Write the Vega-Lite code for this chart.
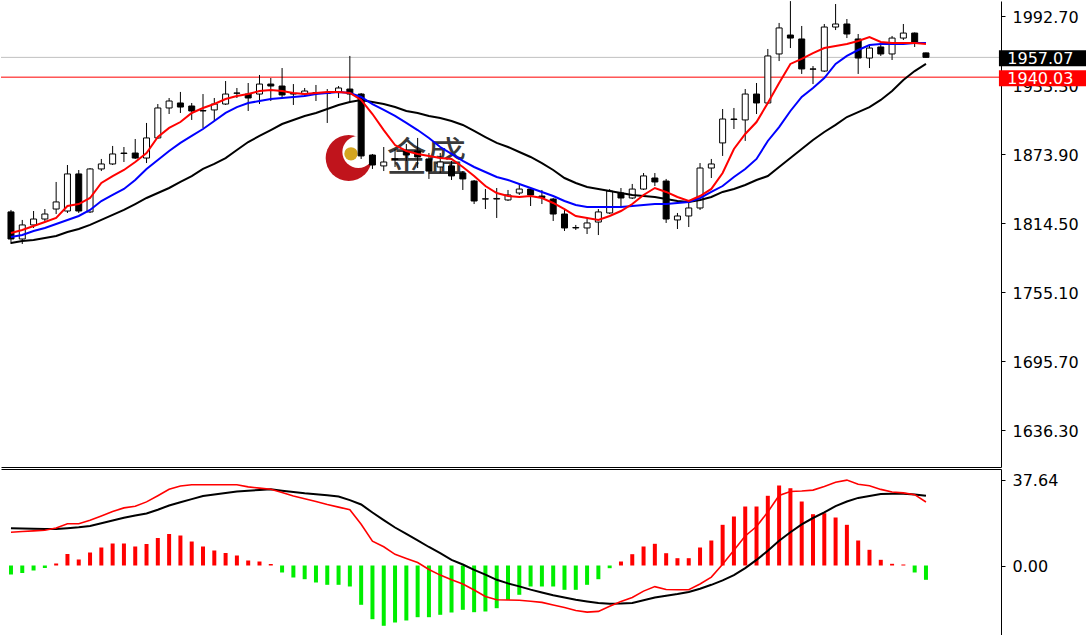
{
"$schema": "https://vega.github.io/schema/vega-lite/v6.json",
"padding": 0,
"background": "white",
"spacing": 2,
"config": {"view": {"stroke": null}, "axis": {"grid": false, "labelFont": "DejaVu Sans", "labelFontSize": 16, "labelColor": "#000", "domainColor": "#000", "tickColor": "#000", "labelOverlap": false, "labelFlush": false}},
"resolve": {"scale": {"x": "independent", "y": "independent"}},
"data": {"values": [
{"i":0,"o":1824.0,"h":1825.7,"l":1796.4,"c":1800.7,"r":1805.9,"b":1802.4,"k":1797.3,"hist":-3.94,"m":16.28,"s":14.58},
{"i":1,"o":1800.7,"h":1817.1,"l":1796.4,"c":1812.8,"r":1808.5,"b":1804.2,"k":1799.0,"hist":-3.28,"m":16.19,"s":14.88},
{"i":2,"o":1812.8,"h":1824.8,"l":1810.2,"c":1817.9,"r":1811.9,"b":1807.6,"k":1799.8,"hist":-2.19,"m":16.11,"s":15.14},
{"i":3,"o":1817.9,"h":1826.5,"l":1816.2,"c":1822.2,"r":1815.3,"b":1810.2,"k":1801.6,"hist":-1.09,"m":15.98,"s":15.41},
{"i":4,"o":1826.5,"h":1849.8,"l":1822.2,"c":1832.6,"r":1818.8,"b":1813.6,"k":1803.3,"hist":0.88,"m":15.93,"s":16.41},
{"i":5,"o":1824.8,"h":1864.4,"l":1823.1,"c":1856.7,"r":1829.1,"b":1817.1,"k":1806.7,"hist":5.03,"m":16.33,"s":18.25},
{"i":6,"o":1856.7,"h":1860.1,"l":1823.1,"c":1824.8,"r":1830.8,"b":1820.5,"k":1809.3,"hist":2.63,"m":16.76,"s":18.25},
{"i":7,"o":1824.0,"h":1861.8,"l":1823.1,"c":1861.0,"r":1836.0,"b":1825.7,"k":1812.8,"hist":5.69,"m":17.33,"s":19.78},
{"i":8,"o":1861.0,"h":1869.6,"l":1859.2,"c":1865.3,"r":1848.9,"b":1833.4,"k":1817.1,"hist":7.88,"m":18.47,"s":21.67},
{"i":9,"o":1865.3,"h":1880.8,"l":1864.4,"c":1873.9,"r":1854.9,"b":1838.6,"k":1821.4,"hist":9.63,"m":19.70,"s":23.64},
{"i":10,"o":1874.7,"h":1879.9,"l":1867.0,"c":1874.3,"r":1860.1,"b":1843.8,"k":1825.7,"hist":9.63,"m":20.88,"s":25.21},
{"i":11,"o":1874.7,"h":1886.8,"l":1869.6,"c":1870.4,"r":1867.0,"b":1851.5,"k":1830.8,"hist":8.32,"m":21.89,"s":25.91},
{"i":12,"o":1870.4,"h":1900.6,"l":1866.1,"c":1887.7,"r":1874.7,"b":1861.0,"k":1836.0,"hist":9.41,"m":22.80,"s":27.84},
{"i":13,"o":1887.7,"h":1916.9,"l":1886.8,"c":1913.5,"r":1888.5,"b":1868.7,"k":1840.3,"hist":12.04,"m":24.42,"s":30.55},
{"i":14,"o":1913.5,"h":1922.1,"l":1908.3,"c":1919.5,"r":1896.3,"b":1876.5,"k":1844.6,"hist":13.79,"m":26.26,"s":33.40},
{"i":15,"o":1917.8,"h":1927.3,"l":1909.2,"c":1914.3,"r":1901.4,"b":1883.4,"k":1849.8,"hist":13.13,"m":27.66,"s":34.80},
{"i":16,"o":1915.2,"h":1917.8,"l":1903.2,"c":1910.9,"r":1909.2,"b":1889.4,"k":1854.9,"hist":10.50,"m":29.06,"s":35.32},
{"i":17,"o":1910.9,"h":1925.5,"l":1896.3,"c":1911.3,"r":1913.5,"b":1895.4,"k":1861.0,"hist":8.32,"m":30.42,"s":35.32},
{"i":18,"o":1911.8,"h":1922.1,"l":1902.3,"c":1916.9,"r":1916.9,"b":1902.3,"k":1865.3,"hist":6.57,"m":31.08,"s":35.32},
{"i":19,"o":1916.9,"h":1936.7,"l":1916.1,"c":1925.5,"r":1921.2,"b":1909.2,"k":1870.4,"hist":5.47,"m":31.78,"s":35.32},
{"i":20,"o":1926.4,"h":1930.7,"l":1922.1,"c":1926.2,"r":1923.8,"b":1914.3,"k":1877.3,"hist":4.38,"m":32.39,"s":35.32},
{"i":21,"o":1925.5,"h":1935.0,"l":1910.9,"c":1922.1,"r":1925.5,"b":1917.8,"k":1884.2,"hist":2.19,"m":32.74,"s":34.40},
{"i":22,"o":1925.5,"h":1941.9,"l":1916.9,"c":1934.1,"r":1928.1,"b":1919.5,"k":1889.4,"hist":1.75,"m":33.09,"s":33.88},
{"i":23,"o":1934.1,"h":1939.3,"l":1919.5,"c":1932.4,"r":1929.0,"b":1921.2,"k":1894.5,"hist":0.66,"m":33.40,"s":33.40},
{"i":24,"o":1932.4,"h":1947.9,"l":1922.1,"c":1924.7,"r":1928.1,"b":1922.1,"k":1899.7,"hist":-3.06,"m":32.74,"s":31.91},
{"i":25,"o":1926.0,"h":1934.1,"l":1916.1,"c":1925.5,"r":1926.4,"b":1923.0,"k":1903.2,"hist":-5.25,"m":32.17,"s":30.46},
{"i":26,"o":1925.5,"h":1930.7,"l":1923.8,"c":1928.1,"r":1925.5,"b":1923.8,"k":1906.6,"hist":-6.00,"m":31.60,"s":29.24},
{"i":27,"o":1926.4,"h":1933.3,"l":1919.5,"c":1926.8,"r":1926.4,"b":1925.5,"k":1909.2,"hist":-7.44,"m":31.21,"s":28.01},
{"i":28,"o":1926.4,"h":1929.8,"l":1900.6,"c":1926.0,"r":1927.3,"b":1926.4,"k":1912.6,"hist":-8.45,"m":30.77,"s":26.66},
{"i":29,"o":1927.3,"h":1932.4,"l":1922.1,"c":1930.7,"r":1927.3,"b":1927.3,"k":1916.1,"hist":-8.45,"m":30.20,"s":25.56},
{"i":30,"o":1929.8,"h":1958.3,"l":1917.8,"c":1925.5,"r":1926.4,"b":1926.4,"k":1918.7,"hist":-9.19,"m":28.63,"s":24.38},
{"i":31,"o":1925.5,"h":1926.4,"l":1869.6,"c":1872.2,"r":1920.4,"b":1923.0,"k":1920.4,"hist":-17.20,"m":26.70,"s":18.03},
{"i":32,"o":1873.0,"h":1873.9,"l":1861.0,"c":1864.4,"r":1908.3,"b":1916.9,"k":1918.7,"hist":-23.50,"m":23.20,"s":10.64},
{"i":33,"o":1863.6,"h":1879.9,"l":1859.2,"c":1867.0,"r":1894.5,"b":1911.8,"k":1916.9,"hist":-26.39,"m":19.87,"s":8.18},
{"i":34,"o":1869.6,"h":1878.2,"l":1862.7,"c":1869.2,"r":1881.6,"b":1906.6,"k":1914.3,"hist":-24.95,"m":16.63,"s":4.90},
{"i":35,"o":1876.5,"h":1882.5,"l":1867.9,"c":1873.0,"r":1876.5,"b":1900.6,"k":1910.9,"hist":-24.07,"m":13.83,"s":3.11},
{"i":36,"o":1876.5,"h":1887.7,"l":1861.8,"c":1871.3,"r":1873.9,"b":1894.5,"k":1909.2,"hist":-22.63,"m":11.03,"s":1.31},
{"i":37,"o":1869.6,"h":1874.7,"l":1852.4,"c":1859.2,"r":1872.2,"b":1887.7,"k":1906.6,"hist":-22.63,"m":8.10,"s":-1.75},
{"i":38,"o":1862.7,"h":1874.7,"l":1857.5,"c":1867.0,"r":1870.4,"b":1879.9,"k":1904.9,"hist":-21.58,"m":5.38,"s":-4.20},
{"i":39,"o":1863.6,"h":1867.9,"l":1851.5,"c":1855.0,"r":1869.6,"b":1873.9,"k":1902.3,"hist":-20.57,"m":2.49,"s":-6.22},
{"i":40,"o":1857.5,"h":1859.2,"l":1842.9,"c":1852.4,"r":1862.7,"b":1867.9,"k":1898.9,"hist":-19.39,"m":0.44,"s":-8.14},
{"i":41,"o":1850.6,"h":1851.5,"l":1830.8,"c":1833.4,"r":1854.9,"b":1862.7,"k":1893.7,"hist":-20.44,"m":-1.88,"s":-10.72},
{"i":42,"o":1835.1,"h":1843.7,"l":1826.5,"c":1835.3,"r":1846.3,"b":1858.4,"k":1888.5,"hist":-20.13,"m":-3.98,"s":-13.57},
{"i":43,"o":1835.1,"h":1844.6,"l":1818.8,"c":1835.6,"r":1840.3,"b":1854.1,"k":1883.4,"hist":-18.69,"m":-6.26,"s":-15.01},
{"i":44,"o":1834.3,"h":1842.9,"l":1833.4,"c":1838.6,"r":1837.7,"b":1851.5,"k":1879.9,"hist":-15.01,"m":-7.83,"s":-15.10},
{"i":45,"o":1840.3,"h":1848.1,"l":1838.6,"c":1843.7,"r":1836.9,"b":1848.1,"k":1875.6,"hist":-12.82,"m":-9.15,"s":-15.23},
{"i":46,"o":1843.7,"h":1844.6,"l":1829.1,"c":1838.6,"r":1837.7,"b":1844.6,"k":1871.3,"hist":-9.19,"m":-10.55,"s":-15.63},
{"i":47,"o":1837.7,"h":1842.9,"l":1830.8,"c":1836.4,"r":1836.0,"b":1841.2,"k":1866.1,"hist":-9.19,"m":-11.82,"s":-16.15},
{"i":48,"o":1835.1,"h":1836.0,"l":1816.2,"c":1822.2,"r":1831.7,"b":1837.7,"k":1860.1,"hist":-9.19,"m":-13.04,"s":-17.29},
{"i":49,"o":1822.2,"h":1825.7,"l":1807.6,"c":1810.2,"r":1826.5,"b":1833.4,"k":1853.2,"hist":-10.64,"m":-14.01,"s":-18.38},
{"i":50,"o":1810.2,"h":1812.8,"l":1808.5,"c":1810.6,"r":1820.5,"b":1830.0,"k":1848.9,"hist":-10.64,"m":-15.01,"s":-19.70},
{"i":51,"o":1810.2,"h":1817.9,"l":1805.0,"c":1814.5,"r":1818.8,"b":1828.3,"k":1845.5,"hist":-8.45,"m":-15.71,"s":-20.40},
{"i":52,"o":1815.3,"h":1826.5,"l":1804.1,"c":1824.0,"r":1817.1,"b":1828.3,"k":1843.8,"hist":-6.00,"m":-16.37,"s":-20.09},
{"i":53,"o":1823.1,"h":1843.7,"l":1822.2,"c":1842.0,"r":1820.5,"b":1828.3,"k":1842.0,"hist":-1.18,"m":-16.72,"s":-17.81},
{"i":54,"o":1840.3,"h":1844.6,"l":1827.4,"c":1836.0,"r":1824.8,"b":1828.3,"k":1840.3,"hist":1.75,"m":-16.63,"s":-15.80},
{"i":55,"o":1836.0,"h":1848.1,"l":1835.1,"c":1843.7,"r":1830.8,"b":1829.1,"k":1838.6,"hist":4.95,"m":-16.41,"s":-14.01},
{"i":56,"o":1843.7,"h":1857.5,"l":1842.9,"c":1855.0,"r":1838.6,"b":1830.0,"k":1837.7,"hist":8.32,"m":-15.23,"s":-11.21},
{"i":57,"o":1853.2,"h":1857.5,"l":1846.3,"c":1849.8,"r":1844.6,"b":1830.8,"k":1836.9,"hist":9.50,"m":-14.05,"s":-9.24},
{"i":58,"o":1850.6,"h":1852.4,"l":1814.5,"c":1817.9,"r":1841.2,"b":1830.8,"k":1835.1,"hist":5.38,"m":-13.22,"s":-10.50},
{"i":59,"o":1817.1,"h":1823.1,"l":1809.3,"c":1820.5,"r":1836.9,"b":1831.7,"k":1833.4,"hist":3.20,"m":-12.47,"s":-10.64},
{"i":60,"o":1820.5,"h":1833.4,"l":1811.0,"c":1827.4,"r":1833.4,"b":1832.6,"k":1832.6,"hist":3.20,"m":-11.60,"s":-10.64},
{"i":61,"o":1827.4,"h":1866.1,"l":1825.7,"c":1861.8,"r":1837.7,"b":1836.0,"k":1834.3,"hist":7.88,"m":-10.20,"s":-8.10},
{"i":62,"o":1861.8,"h":1869.6,"l":1853.2,"c":1865.3,"r":1843.8,"b":1841.2,"k":1836.9,"hist":10.94,"m":-8.45,"s":-5.08},
{"i":63,"o":1883.4,"h":1912.6,"l":1872.2,"c":1904.0,"r":1857.5,"b":1846.3,"k":1841.2,"hist":17.81,"m":-6.52,"s":0.53},
{"i":64,"o":1904.0,"h":1913.5,"l":1895.4,"c":1903.6,"r":1878.2,"b":1854.1,"k":1843.8,"hist":21.45,"m":-4.25,"s":6.70},
{"i":65,"o":1903.2,"h":1929.8,"l":1885.1,"c":1925.5,"r":1891.1,"b":1861.0,"k":1847.2,"hist":25.82,"m":-1.14,"s":12.91},
{"i":66,"o":1925.5,"h":1935.0,"l":1908.3,"c":1917.8,"r":1901.4,"b":1869.6,"k":1851.5,"hist":25.82,"m":2.45,"s":17.07},
{"i":67,"o":1917.8,"h":1964.3,"l":1916.9,"c":1958.3,"r":1917.8,"b":1885.1,"k":1854.9,"hist":30.51,"m":6.43,"s":23.42},
{"i":68,"o":1960.0,"h":1986.7,"l":1953.9,"c":1982.4,"r":1935.0,"b":1897.1,"k":1862.7,"hist":35.02,"m":10.85,"s":30.64},
{"i":69,"o":1976.3,"h":2005.5,"l":1965.1,"c":1973.7,"r":1951.4,"b":1910.9,"k":1870.4,"hist":33.83,"m":14.58,"s":32.39},
{"i":70,"o":1972.9,"h":1984.1,"l":1942.8,"c":1947.1,"r":1955.7,"b":1923.0,"k":1878.2,"hist":28.01,"m":17.99,"s":32.61},
{"i":71,"o":1947.1,"h":1949.6,"l":1934.1,"c":1946.9,"r":1960.8,"b":1930.7,"k":1885.9,"hist":22.45,"m":20.79,"s":33.00},
{"i":72,"o":1945.3,"h":1985.8,"l":1944.5,"c":1983.2,"r":1965.1,"b":1939.3,"k":1892.8,"hist":22.89,"m":23.29,"s":34.58},
{"i":73,"o":1983.2,"h":2003.0,"l":1980.6,"c":1985.8,"r":1966.9,"b":1951.4,"k":1898.9,"hist":21.01,"m":25.96,"s":36.46},
{"i":74,"o":1985.8,"h":1990.1,"l":1973.7,"c":1977.2,"r":1968.6,"b":1958.3,"k":1905.7,"hist":17.81,"m":28.01,"s":37.38},
{"i":75,"o":1972.9,"h":1977.2,"l":1942.8,"c":1956.5,"r":1971.2,"b":1963.4,"k":1910.0,"hist":10.94,"m":29.59,"s":35.54},
{"i":76,"o":1956.5,"h":1966.9,"l":1947.9,"c":1965.1,"r":1974.6,"b":1967.7,"k":1914.3,"hist":6.87,"m":30.42,"s":34.93},
{"i":77,"o":1966.0,"h":1969.4,"l":1958.3,"c":1960.0,"r":1970.3,"b":1968.6,"k":1920.4,"hist":2.49,"m":31.25,"s":33.31},
{"i":78,"o":1960.0,"h":1975.5,"l":1954.8,"c":1973.7,"r":1969.4,"b":1968.6,"k":1928.1,"hist":0.74,"m":31.38,"s":32.17},
{"i":79,"o":1973.7,"h":1985.8,"l":1972.0,"c":1978.0,"r":1969.4,"b":1968.6,"k":1937.6,"hist":0.44,"m":31.38,"s":31.78},
{"i":80,"o":1978.0,"h":1978.5,"l":1966.0,"c":1969.4,"r":1969.4,"b":1969.4,"k":1945.3,"hist":-3.06,"m":31.08,"s":30.99},
{"i":81,"o":1960.9,"h":1961.2,"l":1956.8,"c":1957.07,"r":1968.6,"b":1969.4,"k":1951.4,"hist":-6.26,"m":30.55,"s":27.79}
]},
"vconcat": [
{
"width": 1000, "height": 466,
"layer": [
{"data": {"values": [{"p": 1957.07}]}, "mark": {"type": "rule", "color": "#c0c0c0", "strokeWidth": 1},
 "encoding": {"y": {"field": "p", "type": "quantitative", "scale": {"domain": [1604.4, 2005.6], "nice": false, "zero": false}, "title": null,
  "axis": {"orient": "right", "values": [1992.7, 1933.3, 1873.9, 1814.5, 1755.1, 1695.7, 1636.3], "format": ".2f", "tickSize": 4, "labelPadding": 7, "labelOffset": 2, "domain": true}}}},
{"data": {"values": [{"p": 1940.03}]}, "mark": {"type": "rule", "color": "#ff0000", "strokeWidth": 1},
 "encoding": {"y": {"field": "p", "type": "quantitative", "title": null, "axis": {"orient": "right", "values": [1992.7, 1933.3, 1873.9, 1814.5, 1755.1, 1695.7, 1636.3], "format": ".2f", "tickSize": 4, "labelPadding": 7, "labelOffset": 2, "domain": true}}}},
{"data": {"values": [{"i": 29.9, "p": 1870.4}]}, "mark": {"type": "point", "shape": "circle", "filled": true, "size": 2124, "color": "#c0141c", "opacity": 1},
 "encoding": {"x": {"field": "i", "type": "quantitative", "scale": {"domain": [-0.44, 87.2], "nice": false, "zero": false}, "title": null, "axis": {"orient": "bottom", "labels": false, "ticks": false, "domain": true}},
  "y": {"field": "p", "type": "quantitative", "title": null, "axis": {"orient": "right", "values": [1992.7, 1933.3, 1873.9, 1814.5, 1755.1, 1695.7, 1636.3], "format": ".2f", "tickSize": 4, "labelPadding": 7, "labelOffset": 2, "domain": true}}}},
{"data": {"values": [{"i": 30.75, "p": 1875.6}]}, "mark": {"type": "point", "shape": "circle", "filled": true, "size": 1018, "color": "#ffffff", "opacity": 1},
 "encoding": {"x": {"field": "i", "type": "quantitative", "title": null, "axis": {"orient": "bottom", "labels": false, "ticks": false, "domain": true}},
  "y": {"field": "p", "type": "quantitative", "title": null, "axis": {"orient": "right", "values": [1992.7, 1933.3, 1873.9, 1814.5, 1755.1, 1695.7, 1636.3], "format": ".2f", "tickSize": 4, "labelPadding": 7, "labelOffset": 2, "domain": true}}}},
{"data": {"values": [{"i": 30.1, "p": 1874.0}]}, "mark": {"type": "point", "shape": "circle", "filled": true, "size": 180, "color": "#d4a520", "opacity": 1},
 "encoding": {"x": {"field": "i", "type": "quantitative", "title": null, "axis": {"orient": "bottom", "labels": false, "ticks": false, "domain": true}},
  "y": {"field": "p", "type": "quantitative", "title": null, "axis": {"orient": "right", "values": [1992.7, 1933.3, 1873.9, 1814.5, 1755.1, 1695.7, 1636.3], "format": ".2f", "tickSize": 4, "labelPadding": 7, "labelOffset": 2, "domain": true}}}},
{"data": {"values": [{"i": 36.8, "p": 1869.6, "t": "金盛"}]}, "mark": {"type": "text", "font": "Noto Sans CJK SC", "fontSize": 40, "color": "#3a3a3a", "align": "center", "baseline": "middle"},
 "encoding": {"x": {"field": "i", "type": "quantitative", "title": null, "axis": {"orient": "bottom", "labels": false, "ticks": false, "domain": true}},
  "y": {"field": "p", "type": "quantitative", "title": null, "axis": {"orient": "right", "values": [1992.7, 1933.3, 1873.9, 1814.5, 1755.1, 1695.7, 1636.3], "format": ".2f", "tickSize": 4, "labelPadding": 7, "labelOffset": 2, "domain": true}}, "text": {"field": "t"}}},
{"mark": {"type": "rule", "color": "#000000", "strokeWidth": 1},
 "encoding": {"x": {"field": "i", "type": "quantitative", "title": null, "axis": {"orient": "bottom", "labels": false, "ticks": false, "domain": true}},
  "y": {"field": "l", "type": "quantitative", "title": null, "axis": {"orient": "right", "values": [1992.7, 1933.3, 1873.9, 1814.5, 1755.1, 1695.7, 1636.3], "format": ".2f", "tickSize": 4, "labelPadding": 7, "labelOffset": 2, "domain": true}}, "y2": {"field": "h"}}},
{"mark": {"type": "bar", "size": 6, "stroke": "#000000", "strokeWidth": 1},
 "encoding": {"x": {"field": "i", "type": "quantitative", "title": null, "axis": {"orient": "bottom", "labels": false, "ticks": false, "domain": true}},
  "y": {"field": "o", "type": "quantitative", "title": null, "axis": {"orient": "right", "values": [1992.7, 1933.3, 1873.9, 1814.5, 1755.1, 1695.7, 1636.3], "format": ".2f", "tickSize": 4, "labelPadding": 7, "labelOffset": 2, "domain": true}}, "y2": {"field": "c"},
  "fill": {"condition": {"test": "datum.c >= datum.o", "value": "#ffffff"}, "value": "#000000"}}},
{"mark": {"type": "line", "color": "#000000", "strokeWidth": 2},
 "encoding": {"x": {"field": "i", "type": "quantitative", "title": null, "axis": {"orient": "bottom", "labels": false, "ticks": false, "domain": true}},
  "y": {"field": "k", "type": "quantitative", "title": null, "axis": {"orient": "right", "values": [1992.7, 1933.3, 1873.9, 1814.5, 1755.1, 1695.7, 1636.3], "format": ".2f", "tickSize": 4, "labelPadding": 7, "labelOffset": 2, "domain": true}}}},
{"mark": {"type": "line", "color": "#0000ff", "strokeWidth": 2},
 "encoding": {"x": {"field": "i", "type": "quantitative", "title": null, "axis": {"orient": "bottom", "labels": false, "ticks": false, "domain": true}},
  "y": {"field": "b", "type": "quantitative", "title": null, "axis": {"orient": "right", "values": [1992.7, 1933.3, 1873.9, 1814.5, 1755.1, 1695.7, 1636.3], "format": ".2f", "tickSize": 4, "labelPadding": 7, "labelOffset": 2, "domain": true}}}},
{"mark": {"type": "line", "color": "#ff0000", "strokeWidth": 2},
 "encoding": {"x": {"field": "i", "type": "quantitative", "title": null, "axis": {"orient": "bottom", "labels": false, "ticks": false, "domain": true}},
  "y": {"field": "r", "type": "quantitative", "title": null, "axis": {"orient": "right", "values": [1992.7, 1933.3, 1873.9, 1814.5, 1755.1, 1695.7, 1636.3], "format": ".2f", "tickSize": 4, "labelPadding": 7, "labelOffset": 2, "domain": true}}}},
{"data": {"values": [{"p": 1957.07, "t": "1957.07"}, {"p": 1940.03, "t": "1940.03"}]}, "mark": {"type": "rect", "clip": false, "yOffset": -7, "y2Offset": 9},
 "encoding": {"x": {"datum": 87.46, "type": "quantitative", "title": null, "axis": {"orient": "bottom", "labels": false, "ticks": false, "domain": true}}, "x2": {"datum": 96},
  "y": {"field": "p", "type": "quantitative", "title": null, "axis": {"orient": "right", "values": [1992.7, 1933.3, 1873.9, 1814.5, 1755.1, 1695.7, 1636.3], "format": ".2f", "tickSize": 4, "labelPadding": 7, "labelOffset": 2, "domain": true}}, "y2": {"field": "p"},
  "fill": {"condition": {"test": "datum.p > 1950", "value": "#000000"}, "value": "#ff0000"}}},
{"data": {"values": [{"p": 1957.07, "t": "1957.07"}, {"p": 1940.03, "t": "1940.03"}]}, "mark": {"type": "text", "clip": false, "align": "left", "baseline": "middle", "dy": 2, "color": "#ffffff", "font": "DejaVu Sans", "fontSize": 16},
 "encoding": {"x": {"datum": 88.2, "type": "quantitative", "title": null, "axis": {"orient": "bottom", "labels": false, "ticks": false, "domain": true}},
  "y": {"field": "p", "type": "quantitative", "title": null, "axis": {"orient": "right", "values": [1992.7, 1933.3, 1873.9, 1814.5, 1755.1, 1695.7, 1636.3], "format": ".2f", "tickSize": 4, "labelPadding": 7, "labelOffset": 2, "domain": true}}, "text": {"field": "t"}}}
]
},
{
"width": 1000, "height": 166,
"layer": [
{"mark": {"type": "bar", "size": 4},
 "encoding": {"x": {"field": "i", "type": "quantitative", "scale": {"domain": [-0.44, 87.2], "nice": false, "zero": false}, "title": null, "axis": {"orient": "top", "labels": false, "ticks": false, "domain": true}},
  "y": {"field": "hist", "type": "quantitative", "scale": {"domain": [-30.42, 42.24], "nice": false, "zero": false}, "title": null,
   "axis": {"orient": "right", "values": [0, 37.64], "format": ".2f", "tickSize": 4, "labelPadding": 7, "labelOffset": 1, "domain": true}},
  "y2": {"datum": 0},
  "color": {"condition": {"test": "datum.hist > 0", "value": "#ff0000"}, "value": "#00ee00"}}},
{"mark": {"type": "line", "color": "#000000", "strokeWidth": 2},
 "encoding": {"x": {"field": "i", "type": "quantitative", "title": null, "axis": {"orient": "top", "labels": false, "ticks": false, "domain": true}},
  "y": {"field": "m", "type": "quantitative", "title": null, "axis": {"orient": "right", "values": [0, 37.64], "format": ".2f", "tickSize": 4, "labelPadding": 7, "labelOffset": 1, "domain": true}}}},
{"mark": {"type": "line", "color": "#ff0000", "strokeWidth": 1.6},
 "encoding": {"x": {"field": "i", "type": "quantitative", "title": null, "axis": {"orient": "top", "labels": false, "ticks": false, "domain": true}},
  "y": {"field": "s", "type": "quantitative", "title": null, "axis": {"orient": "right", "values": [0, 37.64], "format": ".2f", "tickSize": 4, "labelPadding": 7, "labelOffset": 1, "domain": true}}}}
]
}
]
}
